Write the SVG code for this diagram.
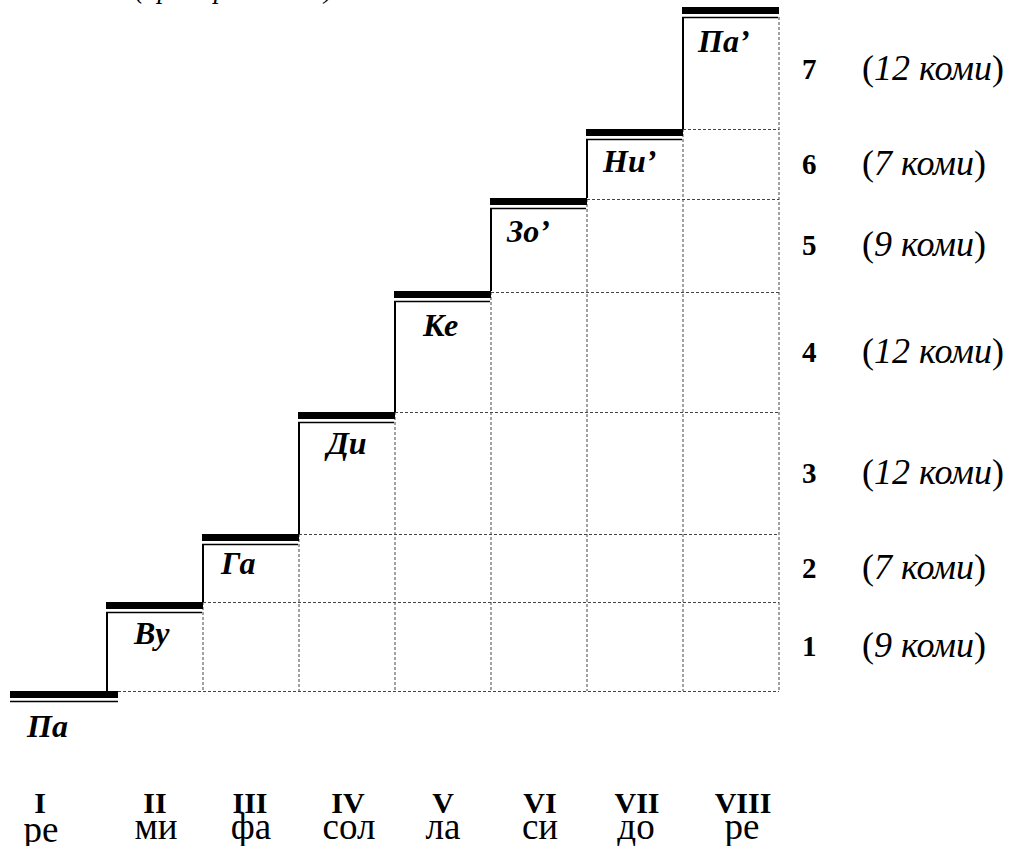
<svg xmlns="http://www.w3.org/2000/svg" width="1013" height="846" viewBox="0 0 1013 846">
<style>
.bar{fill:#000}
.thin{stroke:#000;stroke-width:1.6;fill:none}
.riser{stroke:#000;stroke-width:2;fill:none}
.dash{stroke:#444;stroke-width:1;stroke-dasharray:3 2;fill:none}
.lbl{font-family:"Liberation Serif",serif;font-weight:bold;font-style:italic;font-size:32px;fill:#000}
.num{font-family:"Liberation Serif",serif;font-weight:bold;font-size:29px;fill:#000}
.komi{font-family:"Liberation Serif",serif;font-size:36px;fill:#000}
.komi tspan.i{font-style:italic}
.rom{font-family:"Liberation Serif",serif;font-weight:bold;font-size:30px;fill:#000;text-anchor:middle}
.note{font-family:"Liberation Serif",serif;font-size:37px;fill:#000;text-anchor:middle}
.title{font-family:"Liberation Serif",serif;font-style:italic;font-size:27px;fill:#000}
</style>
<text class="title" x="135" y="-2">(примерна скала)</text>
<g id="connectors">
<path class="dash" d="M118 691.5H779M203 602.5H779M299 534.5H779M395 412.5H779M491 292.5H779M587 199.5H779M683 129.5H779"/>
<path class="dash" d="M203 602V691M299 534V691M395 412V691M491 292V691M587 199V691M683 129V691M779 17V691"/>
<path class="riser" d="M107 612V691M203 544V602M299 422V534M395 301V412M491 208V291M587 139V198M683 17V129"/>
</g>
<g id="step-pa">
<rect class="bar" x="10" y="691" width="108" height="7"/>
<line class="thin" x1="10" y1="701.5" x2="118" y2="701.5"/>
<text class="lbl" x="27" y="737">Па</text>
</g>
<g id="step-vu">
<rect class="bar" x="106" y="602" width="97" height="7"/>
<line class="thin" x1="106" y1="612.5" x2="202" y2="612.5"/>
<text class="lbl" x="134" y="644">Ву</text>
</g>
<g id="step-ga">
<rect class="bar" x="202" y="534" width="97" height="7"/>
<line class="thin" x1="202" y1="544.5" x2="298" y2="544.5"/>
<text class="lbl" x="221" y="574">Га</text>
</g>
<g id="step-di">
<rect class="bar" x="298" y="412" width="97" height="7"/>
<line class="thin" x1="298" y1="422.5" x2="394" y2="422.5"/>
<text class="lbl" x="327" y="454">Ди</text>
</g>
<g id="step-ke">
<rect class="bar" x="394" y="291" width="97" height="7"/>
<line class="thin" x1="394" y1="301.5" x2="490" y2="301.5"/>
<text class="lbl" x="423" y="336">Ке</text>
</g>
<g id="step-zo">
<rect class="bar" x="490" y="198" width="97" height="7"/>
<line class="thin" x1="490" y1="208.5" x2="586" y2="208.5"/>
<text class="lbl" x="507" y="242">Зо’</text>
</g>
<g id="step-ni">
<rect class="bar" x="586" y="129" width="97" height="7"/>
<line class="thin" x1="586" y1="139.5" x2="682" y2="139.5"/>
<text class="lbl" x="603" y="172">Ни’</text>
</g>
<g id="step-pa2">
<rect class="bar" x="682" y="7" width="97" height="7"/>
<line class="thin" x1="682" y1="17.5" x2="778" y2="17.5"/>
<text class="lbl" x="698" y="52">Па’</text>
</g>
<g id="intervals">
<text class="num" x="802" y="79">7</text><text class="komi" x="862" y="80">(<tspan class="i">12 коми</tspan>)</text>
<text class="num" x="802" y="174">6</text><text class="komi" x="862" y="175">(<tspan class="i">7 коми</tspan>)</text>
<text class="num" x="802" y="255">5</text><text class="komi" x="862" y="256">(<tspan class="i">9 коми</tspan>)</text>
<text class="num" x="802" y="362">4</text><text class="komi" x="862" y="363">(<tspan class="i">12 коми</tspan>)</text>
<text class="num" x="802" y="483">3</text><text class="komi" x="862" y="484">(<tspan class="i">12 коми</tspan>)</text>
<text class="num" x="802" y="578">2</text><text class="komi" x="862" y="579">(<tspan class="i">7 коми</tspan>)</text>
<text class="num" x="802" y="656">1</text><text class="komi" x="862" y="657">(<tspan class="i">9 коми</tspan>)</text>
</g>
<g id="degrees">
<text class="rom" x="40" y="813">I</text>
<text class="rom" x="155" y="813">II</text>
<text class="rom" x="250" y="813">III</text>
<text class="rom" x="348" y="813">IV</text>
<text class="rom" x="443" y="813">V</text>
<text class="rom" x="540" y="813">VI</text>
<text class="rom" x="637" y="813">VII</text>
<text class="rom" x="743" y="813">VIII</text>
</g>
<g id="notes">
<text class="note" x="41" y="842">ре</text>
<text class="note" x="156" y="839">ми</text>
<text class="note" x="251" y="839">фа</text>
<text class="note" x="349" y="839">сол</text>
<text class="note" x="443" y="839">ла</text>
<text class="note" x="540" y="839">си</text>
<text class="note" x="636" y="839">до</text>
<text class="note" x="742" y="839">ре</text>
</g>
</svg>
